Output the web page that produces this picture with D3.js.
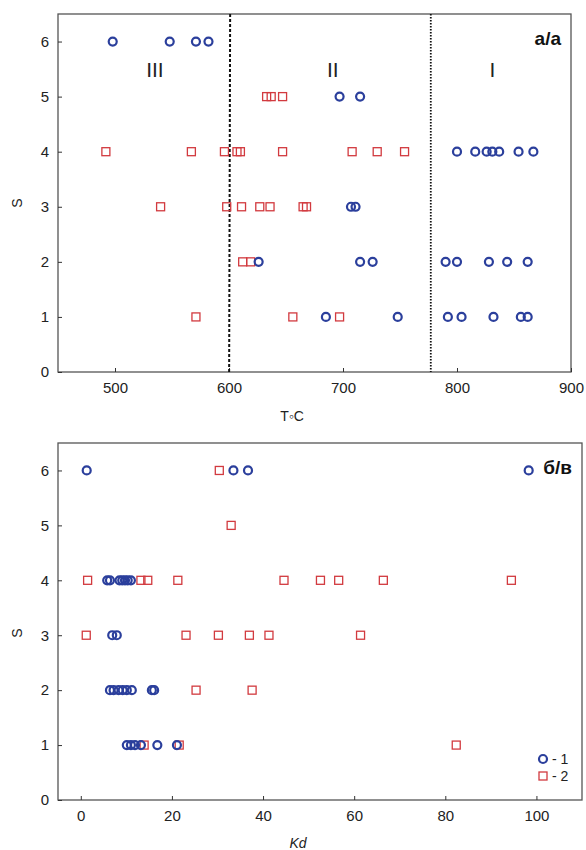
<!DOCTYPE html>
<html>
<head>
<meta charset="utf-8">
<script src="https://d3js.org/d3.v7.min.js"></script>
<style>
  body { margin: 0; background: #fff; }
  svg { font-family: "Liberation Sans", Arial, sans-serif; }
</style>
</head>
<body>
<svg width="586" height="850"></svg>
<script>
// top panel (a/a): temperature vs S
const tempS = [6, 5, 4, 3, 2, 1];
const tempCircles = [
  [498, 548, 571, 582],
  [697, 715],
  [800, 816, 826, 831, 837, 854, 867],
  [707, 711],
  [626, 715, 726, 790, 800, 828, 844, 862],
  [685, 748, 792, 804, 832, 856, 862]
];
const tempSquares = [
  [],
  [633, 637, 647],
  [492, 567, 596, 607, 610, 647, 708, 730, 754],
  [540, 598, 611, 627, 636, 665, 668],
  [612, 619],
  [571, 656, 697]
];
const tempZones = ["III", "II", "I"];
const tempZoneX = [535, 691, 831];
const tempBounds = [601, 777];

// bottom panel (б/в): Kd vs S
const kdS = [6, 5, 4, 3, 2, 1];
const kdCircles = [
  [1.3, 33.5, 36.7, 98.3],
  [],
  [5.8, 6.4, 8.5, 9.1, 9.7, 10.3, 11],
  [6.9, 7.9],
  [6.4, 7.2, 8.3, 9.2, 10.1, 11.2, 15.6, 16.1],
  [10.1, 11, 11.9, 13.2, 16.8, 21.1]
];
const kdSquares = [
  [30.4],
  [33],
  [1.5, 13.2, 14.7, 21.3, 44.6, 52.6, 56.6, 66.4, 94.5],
  [1.2, 23.1, 30.2, 37, 41.3, 61.4],
  [25.3, 37.6],
  [13.9, 21.6, 82.4]
];

const blue = "#2b3f9c", red = "#d23a3f";
const svg = d3.select("svg");

function flat(svals, rows) {
  const out = [];
  rows.forEach((r, i) => r.forEach(v => out.push({x: v, s: svals[i]})));
  return out;
}

function panel(opt) {
  const x = d3.scaleLinear().domain(opt.xd).range([58, opt.right]);
  const y = d3.scaleLinear().domain([0, 6.5]).range([opt.bottom, opt.top]);
  const g = svg.append("g");

  // frame
  g.append("rect")
    .attr("x", 58).attr("y", opt.top)
    .attr("width", opt.right - 58).attr("height", opt.bottom - opt.top)
    .attr("fill", "none").attr("stroke", "#555").attr("stroke-width", 1.3);

  const xa = g.append("g").attr("transform", `translate(0,${opt.bottom})`)
    .call(d3.axisBottom(x).tickValues(opt.ticks).tickSizeInner(-4).tickSizeOuter(0).tickPadding(10));
  const ya = g.append("g").attr("transform", "translate(58,0)")
    .call(d3.axisLeft(y).ticks(7).tickSizeInner(-4).tickSizeOuter(0).tickPadding(9));
  [xa, ya].forEach(a => {
    a.select(".domain").remove();
    a.selectAll("line").attr("stroke", "#333");
    a.selectAll("text").attr("font-size", 15).attr("fill", "#222");
  });

  // S label
  g.append("text")
    .attr("transform", `translate(22,${opt.sy}) rotate(-90)`)
    .attr("text-anchor", "middle").attr("font-size", 14).attr("fill", "#222")
    .text("S");

  if (opt.bounds) {
    g.append("line").attr("x1", x(opt.bounds[0])).attr("x2", x(opt.bounds[0]) - 1)
      .attr("y1", opt.top).attr("y2", opt.bottom)
      .attr("stroke", "#111").attr("stroke-width", 2).attr("stroke-dasharray", "3,2");
    g.append("line").attr("x1", x(opt.bounds[1])).attr("x2", x(opt.bounds[1]))
      .attr("y1", opt.top).attr("y2", opt.bottom)
      .attr("stroke", "#111").attr("stroke-width", 1.8).attr("stroke-dasharray", "1.5,1.5");
  }
  if (opt.zones) {
    g.selectAll(".zone").data(opt.zones).join("text")
      .attr("x", (d, i) => x(opt.zoneX[i])).attr("y", y(5.5) + 8)
      .attr("text-anchor", "middle").attr("font-size", 21).attr("fill", "#222")
      .text(d => d);
  }

  g.selectAll(".sq").data(opt.squares).join("rect")
    .attr("x", d => x(d.x) - 4).attr("y", d => y(d.s) - 4)
    .attr("width", 8).attr("height", 8)
    .attr("fill", "none").attr("stroke", red).attr("stroke-width", 1.3);
  g.selectAll(".ci").data(opt.circles).join("circle")
    .attr("cx", d => x(d.x)).attr("cy", d => y(d.s)).attr("r", 4)
    .attr("fill", "none").attr("stroke", blue).attr("stroke-width", 2.2);

  g.append("text").attr("x", opt.right - 10).attr("y", opt.top + 31)
    .attr("text-anchor", "end").attr("font-size", 19).attr("font-weight", "bold")
    .attr("fill", "#111").text(opt.tag);

  return {x, y, g};
}

panel({
  xd: [450, 900], ticks: [500, 600, 700, 800, 900], right: 571, top: 14, bottom: 372,
  sy: 203, circles: flat(tempS, tempCircles), squares: flat(tempS, tempSquares),
  bounds: tempBounds, zones: tempZones, zoneX: tempZoneX, tag: "а/а"
});
svg.append("text").attr("x", 292).attr("y", 421).attr("text-anchor", "middle")
  .attr("font-size", 14).attr("fill", "#222").text("T◦C");

const b = panel({
  xd: [-5, 110], ticks: [0, 20, 40, 60, 80, 100], right: 582, top: 443, bottom: 800,
  sy: 633, circles: flat(kdS, kdCircles), squares: flat(kdS, kdSquares), tag: "б/в"
});
svg.append("text").attr("x", 298).attr("y", 848).attr("text-anchor", "middle")
  .attr("font-size", 14).attr("font-style", "italic").attr("fill", "#222").text("Kd");

// legend
const leg = b.g.append("g").attr("transform", "translate(543,759)");
leg.append("circle").attr("r", 4).attr("fill", "none").attr("stroke", blue).attr("stroke-width", 2.2);
leg.append("rect").attr("x", -4).attr("y", 13).attr("width", 8).attr("height", 8)
  .attr("fill", "none").attr("stroke", red).attr("stroke-width", 1.3);
leg.append("text").attr("x", 9).attr("y", 5).attr("font-size", 14).attr("fill", "#222").text("- 1");
leg.append("text").attr("x", 9).attr("y", 22).attr("font-size", 14).attr("fill", "#222").text("- 2");
</script>
</body>
</html>
